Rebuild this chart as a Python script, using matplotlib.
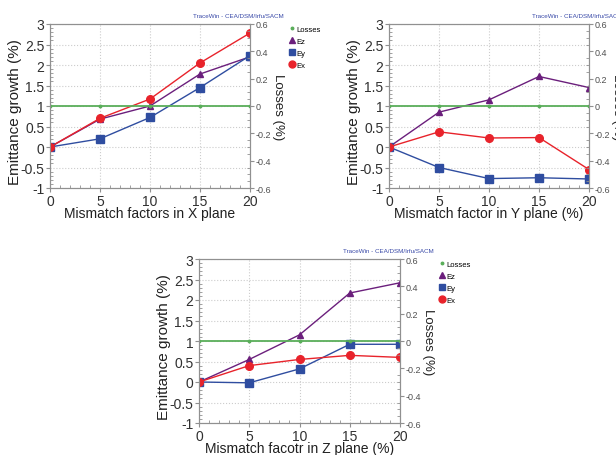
import numpy as np
import matplotlib.pyplot as plt
from matplotlib.lines import Line2D
from matplotlib.ticker import MultipleLocator, FormatStrFormatter

plt.rcParams['font.family'] = ['Liberation Sans', 'DejaVu Sans']
plt.rcParams['axes.unicode_minus'] = False

# mismatch factor (%)
mismatch = [0, 5, 10, 15, 20]

# emittance growth (%) for mismatch in X plane
ex_x = [0, 0.7, 1.17, 2.05, 2.78]
ey_x = [0, 0.2, 0.72, 1.45, 2.23]
ez_x = [0, 0.68, 1.0, 1.78, 2.2]

# mismatch in Y plane
ex_y = [0, 0.37, 0.22, 0.23, -0.55]
ey_y = [0, -0.5, -0.77, -0.75, -0.78]
ez_y = [0, 0.85, 1.15, 1.72, 1.45]

# mismatch in Z plane
ex_z = [0, 0.4, 0.55, 0.65, 0.6]
ey_z = [0, -0.02, 0.32, 0.92, 0.92]
ez_z = [0, 0.55, 1.15, 2.17, 2.42]

# losses (%), right axis
losses = [0, 0, 0, 0, 0]

xlabels = ['Mismatch factors in X plane',
           'Mismatch factor in Y plane (%)',
           'Mismatch facotr in Z plane (%)']

c_ex = '#e8232b'
c_ey = '#2f4da0'
c_ez = '#6b1f7c'
c_loss = '#5aae5a'
spine_c = '#909090'

fig = plt.figure(figsize=(6.16, 4.56), dpi=100)

positions = [
    [50/616, 1-189/456, 200/616, 164/456],
    [389/616, 1-189/456, 200/616, 164/456],
    [199/616, 1-424/456, 201/616, 164/456],
]
series = [(ex_x, ey_x, ez_x), (ex_y, ey_y, ez_y), (ex_z, ey_z, ez_z)]

for pos, (ex, ey, ez), xl in zip(positions, series, xlabels):
    ax = fig.add_axes(pos)
    ax2 = ax.twinx()

    ax.plot(mismatch, ez, color=c_ez, lw=1, marker='^', ms=5, zorder=3)
    ax.plot(mismatch, ey, color=c_ey, lw=1, marker='s', ms=5.5, zorder=3)
    ax.plot(mismatch, ex, color=c_ex, lw=1, marker='o', ms=5.5, zorder=4)
    ax2.plot(mismatch, losses, color=c_loss, lw=1.3, marker='o', ms=1.8)

    ax.set_xlim(0, 20)
    ax.set_ylim(-1, 3)
    ax2.set_ylim(-0.6, 0.6)

    ax.xaxis.set_major_locator(MultipleLocator(5))
    ax.xaxis.set_minor_locator(MultipleLocator(1))
    ax.yaxis.set_major_locator(MultipleLocator(0.5))
    ax.yaxis.set_minor_locator(MultipleLocator(0.1))
    ax2.yaxis.set_major_locator(MultipleLocator(0.2))
    ax2.yaxis.set_minor_locator(MultipleLocator(0.05))
    ax.xaxis.set_major_formatter(FormatStrFormatter('%g'))
    ax.yaxis.set_major_formatter(FormatStrFormatter('%g'))
    ax2.yaxis.set_major_formatter(FormatStrFormatter('%g'))

    ax.grid(True, which='major', ls=':', lw=0.8, color='#cccccc')
    ax.set_axisbelow(True)

    ax.tick_params(axis='both', which='major', labelsize=10, length=3,
                   color=spine_c, pad=1, labelcolor='#303030')
    ax.tick_params(axis='both', which='minor', length=2, direction='in',
                   color=spine_c)
    ax2.tick_params(axis='y', which='major', labelsize=6.5, length=3,
                    color=spine_c, pad=1, labelcolor='#505050')
    ax2.tick_params(axis='y', which='minor', length=2, direction='in',
                    color=spine_c)

    for a in (ax, ax2):
        for s in a.spines.values():
            s.set_color(spine_c)
            s.set_linewidth(0.8)

    ax.set_xlabel(xl, fontsize=10, labelpad=-1, color='#202020')
    ax.set_ylabel('Emittance growth (%)', fontsize=11, color='#202020')
    ax.yaxis.set_label_coords(-0.14, 0.47)
    ax2.set_ylabel('Losses (%)', fontsize=9.5, rotation=270, labelpad=9,
                   color='#202020')

    ax.text(0.94, 1.035, 'TraceWin - CEA/DSM/Irfu/SACM', transform=ax.transAxes,
            ha='center', va='bottom', fontsize=4.5, color='#3a4aa8')

    handles = [
        Line2D([], [], ls='none', marker='o', ms=1.8, color=c_loss),
        Line2D([], [], ls='none', marker='^', ms=5, color=c_ez),
        Line2D([], [], ls='none', marker='s', ms=5, color=c_ey),
        Line2D([], [], ls='none', marker='o', ms=5, color=c_ex),
    ]
    ax.legend(handles, ['Losses', 'Ez', 'Ey', 'Ex'], loc='upper left',
              bbox_to_anchor=(1.18, 1.01), frameon=False, fontsize=5.5,
              handlelength=0.8, handletextpad=0.2, labelspacing=0.6,
              borderaxespad=0)

fig.savefig('out.png', dpi=100)
